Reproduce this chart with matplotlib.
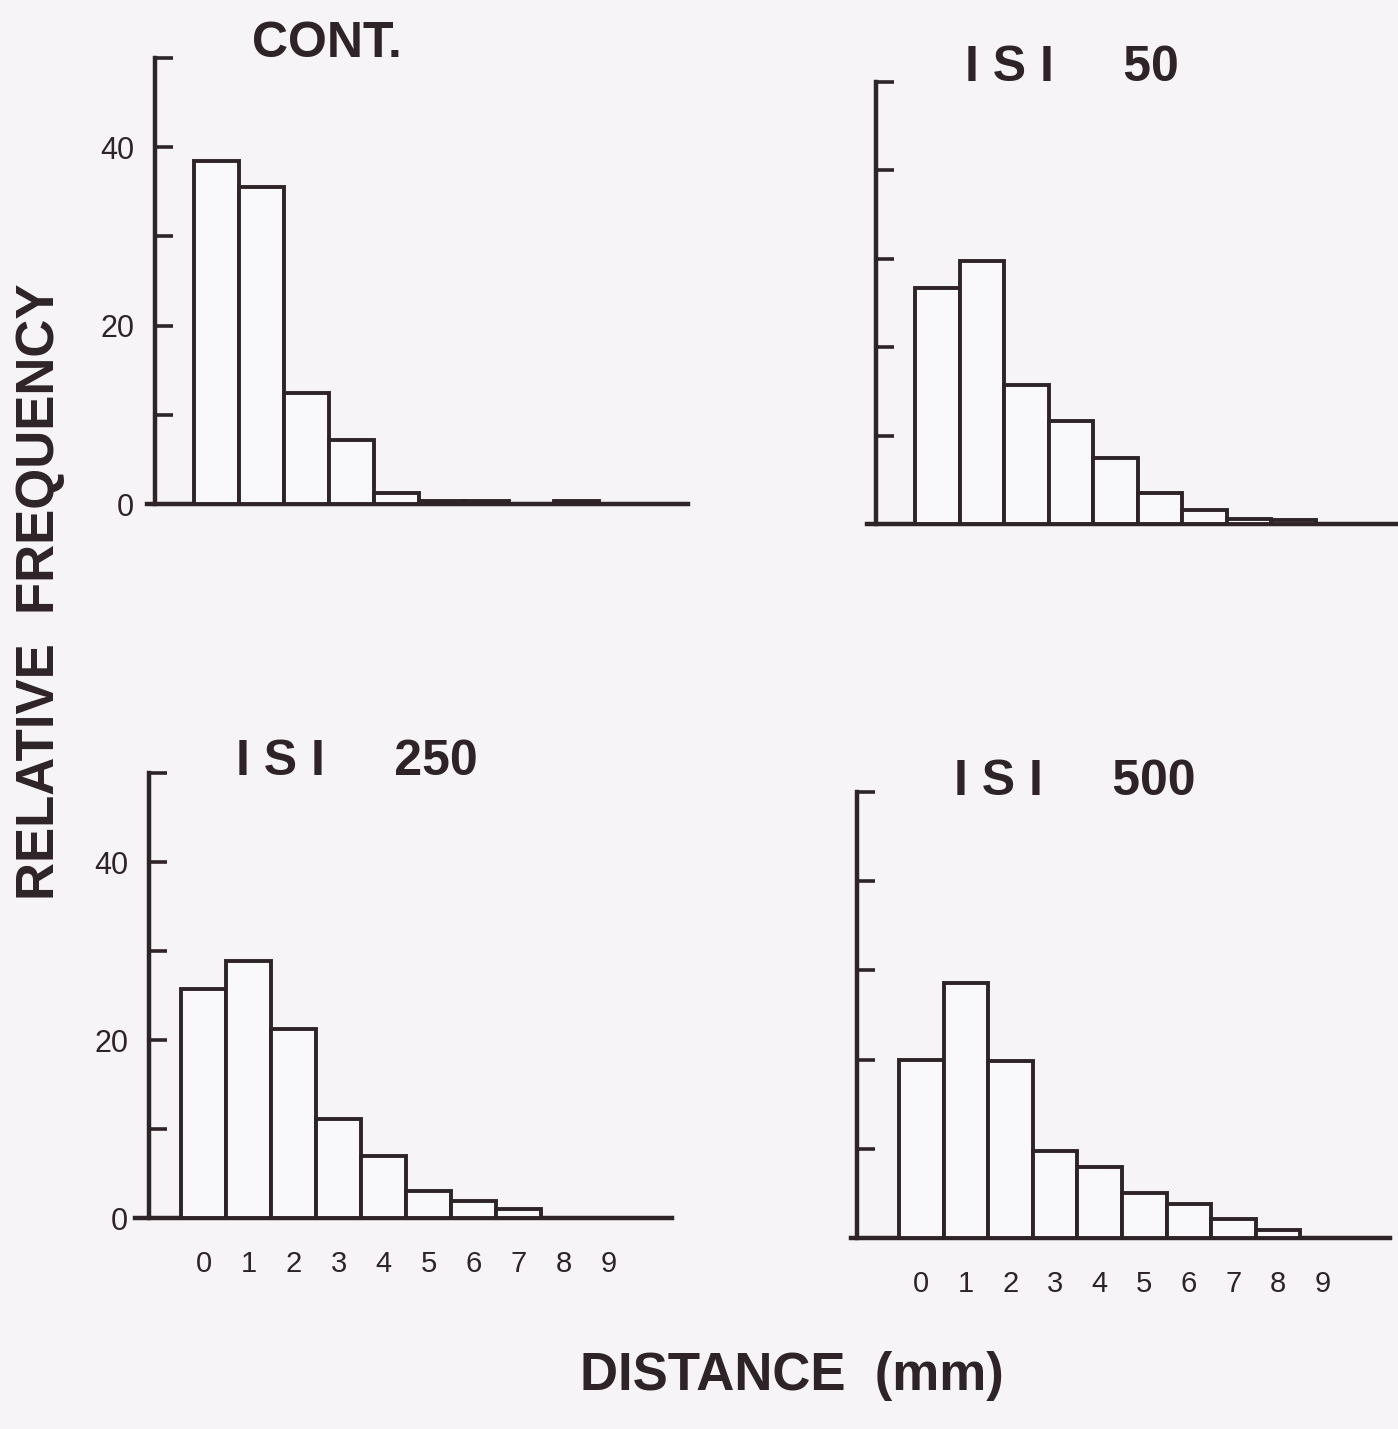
# Relative frequency of distance, four conditions (scanned figure)

import numpy as np
import matplotlib.pyplot as plt

plt.rcParams['font.family'] = ['Liberation Sans', 'DejaVu Sans']

# data
distance = np.arange(10)
tick_text = [str(d) for d in distance]
freq_cont = [38.5, 35.5, 12.5, 7.2, 1.2, 0.3, 0.3, 0.0, 0.3, 0.0]
freq_isi50 = [26.7, 29.7, 15.7, 11.6, 7.5, 3.5, 1.6, 0.6, 0.5, 0.0]
freq_isi250 = [25.7, 28.9, 21.2, 11.1, 7.0, 3.0, 1.9, 1.0, 0.0, 0.0]
freq_isi500 = [19.9, 28.6, 19.8, 9.8, 8.0, 5.1, 3.8, 2.1, 0.9, 0.0]
y_ticks = [0, 10, 20, 30, 40, 50]
y_tick_text = ['0', '', '20', '', '40', '']
titles = ['CONT.', 'I S I     50', 'I S I     250', 'I S I     500']

ink = '#2e2427'
paper = '#f6f4f6'
W, H = 1398, 1429

fig = plt.figure(figsize=(W / 100, H / 100), dpi=100, facecolor=paper)

# layout in pixels: baseline left/right, zero y, top y, y-axis x, first bar left, bar width
layout = [
    (147, 688, 504, 58, 155, 194, 45.0, True, False),
    (867, 1398, 524, 82, 876, 915, 44.5, False, False),
    (135, 672, 1218, 773, 149, 181, 45.0, True, True),
    (851, 1390, 1238, 792, 857, 899, 44.6, False, True),
]
series = [freq_cont, freq_isi50, freq_isi250, freq_isi500]
title_pos = [(327, 44), (1072, 68), (357, 762), (1075, 782)]

for vals, title, tp, (bl, br, zy, ty, yx, b0, bw, show_y, show_x) in zip(
        series, titles, title_pos, layout):
    ax = fig.add_axes([bl / W, 1 - zy / H, (br - bl) / W, (zy - ty) / H])
    ax.set_facecolor('none')
    ax.bar(distance, vals, width=1.0, color='#f9f8fa', edgecolor=ink,
           linewidth=2.8, zorder=3)
    ax.set_xlim(-0.5 - (b0 - bl) / bw, -0.5 + (br - b0) / bw)
    ax.set_ylim(0, 50)
    for s in ['top', 'right']:
        ax.spines[s].set_visible(False)
    ax.spines['left'].set_position(('data', -0.5 - (b0 - yx) / bw))
    for s in ['left', 'bottom']:
        ax.spines[s].set_linewidth(3.2)
        ax.spines[s].set_color(ink)
    ax.spines['left'].set_capstyle('projecting')

    ax.set_yticks(y_ticks)
    ax.set_yticklabels(y_tick_text if show_y else [''] * len(y_ticks))
    ax.tick_params(axis='y', direction='in', length=13, width=2.6,
                   color=ink, labelcolor=ink, labelsize=22, pad=15)
    ax.set_xticks(distance)
    ax.set_xticklabels(tick_text if show_x else [''] * len(distance))
    ax.tick_params(axis='x', length=0, labelcolor=ink, labelsize=21, pad=23)

    fig.text(tp[0] / W, 1 - tp[1] / H, title, ha='center', va='center',
             fontsize=36, fontweight='bold', color=ink)

fig.text(40 / W, 1 - 592 / H, 'RELATIVE  FREQUENCY', rotation=90,
         ha='center', va='center', fontsize=38, fontweight='bold', color=ink)
fig.text(792 / W, 1 - 1376 / H, 'DISTANCE  (mm)', ha='center', va='center',
         fontsize=38, fontweight='bold', color=ink)

plt.savefig('out.png', dpi=100, facecolor=paper)
